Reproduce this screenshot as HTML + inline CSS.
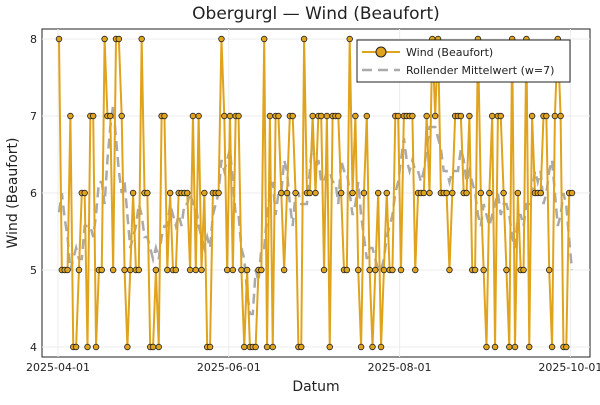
<!DOCTYPE html>
<html><head><meta charset="utf-8"><style>
body{margin:0;background:#fff;font-family:"Liberation Sans","DejaVu Sans",sans-serif}
svg text{font-family:"DejaVu Sans","Liberation Sans",sans-serif}
</style></head><body>
<svg id="chart" width="600" height="400" xmlns="http://www.w3.org/2000/svg">
<rect width="600" height="400" fill="#fff"/>
<text x="316" y="19" font-size="17" text-anchor="middle" fill="#222">Obergurgl — Wind (Beaufort)</text>
<text x="316" y="391" font-size="14" text-anchor="middle" fill="#222">Datum</text>
<text transform="translate(17,193) rotate(-90)" font-size="14" text-anchor="middle" fill="#222">Wind (Beaufort)</text>
<rect x="42" y="29" width="548" height="328" fill="none" stroke="#222" stroke-width="1"/>
<g id="grid"></g><g id="ticks"></g><g id="series"></g>
<g>
<rect x="357" y="40" width="213" height="42" fill="#fff" stroke="#222" stroke-width="1"/>
<line x1="362" y1="52" x2="400" y2="52" stroke="#e0a31d" stroke-width="2"/>
<circle cx="381" cy="52" r="5" fill="#e0a31d" stroke="#222" stroke-width="1"/>
<text x="406" y="56" font-size="11" fill="#222">Wind (Beaufort)</text>
<line x1="362" y1="70" x2="400" y2="70" stroke="#aaa" stroke-width="2.5" stroke-dasharray="10,6"/>
<text x="406" y="74" font-size="11" fill="#222">Rollender Mittelwert (w=7)</text>
</g>
</svg>
<script>
const values=[8,5,5,5,7,4,4,5,6,6,4,7,7,4,5,5,8,7,7,5,8,8,7,5,4,5,6,5,5,8,6,6,4,4,5,
4,7,7,5,6,5,5,6,6,6,6,5,7,5,7,5,6,4,4,6,6,6,8,7,5,7,5,7,7,5,4,5,4,4,4,5,5,8,
4,7,4,7,7,6,5,6,7,7,6,4,4,8,6,6,7,6,7,7,5,7,4,7,7,7,6,5,5,8,6,7,5,4,6,7,5,
4,5,6,4,5,6,5,5,7,7,5,7,7,7,7,5,6,6,6,7,6,8,7,8,6,6,6,5,6,7,7,7,6,6,7,5,
5,8,6,5,4,6,7,4,7,7,6,5,4,8,4,6,5,5,8,4,7,6,6,6,7,7,5,4,7,8,7,4,4,6,6];
const yTicks=[4,5,6,7,8];
const xTickDays=[0,61,122,183];
const xTickLabels=["2025-04-01","2025-06-01","2025-08-01","2025-10-01"];
const NS="http://www.w3.org/2000/svg";
const xs=d=>58+d*2.8, ys=v=>347-(v-4)*77;
const step=(572-59)/(values.length-1);
const xp=i=>59+i*step;
function mk(tag,attrs,parent){const e=document.createElementNS(NS,tag);for(const k in attrs)e.setAttribute(k,attrs[k]);document.getElementById(parent).appendChild(e);return e;}
yTicks.forEach(v=>{
 const g=mk('line',{x1:42,x2:590,y1:ys(v),y2:ys(v),stroke:'#ececec','stroke-width':1},'grid');
 
 
 const t=mk('text',{x:37,y:ys(v)+4,'font-size':11,'text-anchor':'end',fill:'#222'},'ticks');t.textContent=v;
 
 
});
xTickDays.forEach((d,i)=>{
 const g=mk('line',{x1:xs(d),x2:xs(d),y1:29,y2:357,stroke:'#ececec','stroke-width':1},'grid');
 
 
 const t=mk('text',{x:xs(d),y:371,'font-size':11,'text-anchor':'middle',fill:'#222'},'ticks');t.textContent=xTickLabels[i];
 
 
});
const roll=values.map((v,i)=>{let s=0,n=0;for(let j=i-3;j<=i+3;j++)if(j>=0&&j<values.length){s+=values[j];n++;}return s/n;});
const rl=mk('polyline',{points:roll.map((v,i)=>xp(i)+','+ys(v)).join(' '),fill:'none',stroke:'#aaa','stroke-width':2.5,'stroke-dasharray':'10,6'},'series');


const wl=mk('polyline',{points:values.map((v,i)=>xp(i)+','+ys(v)).join(' '),fill:'none',stroke:'#e0a31d','stroke-width':2},'series');


values.forEach((v,i)=>{
 const c=mk('circle',{cx:xp(i),cy:ys(v),r:2.8,fill:'#e0a31d',stroke:'#222','stroke-width':0.8},'series');
 
 
});
</script>
</body></html>
